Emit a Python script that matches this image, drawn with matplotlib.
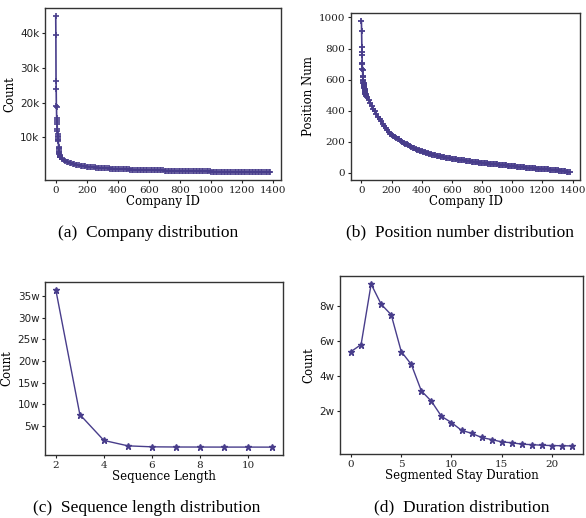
import numpy as np
import matplotlib
matplotlib.use('Agg')
from matplotlib import pyplot as plt

COLOR = '#483d8b'

# (a) company distribution: head ids one by one, tail every 10 ids
company_head_ids = list(range(30))
company_head_counts = [45000, 39500, 26300, 24000, 19000, 18700, 15500, 15000, 14500, 14000,
                       12500, 11800, 11000, 10500, 10000, 9500, 9300, 9000, 7300, 7000,
                       6800, 6200, 5800, 5500, 5200, 5000, 4800, 4600, 4500, 4400]
company_tail_ids = list(range(30, 1381, 10))
company_tail_counts = [4300, 3900, 3500, 3250, 3000, 2850, 2700, 2550, 2400, 2300,
                       2200, 2100, 2000, 1920, 1850, 1780, 1700, 1650, 1600, 1550,
                       1500, 1450, 1400, 1360, 1320, 1280, 1250, 1210, 1180, 1150,
                       1120, 1090, 1060, 1030, 1010, 985, 960, 940, 920, 900,
                       880, 860, 840, 820, 800, 785, 770, 755, 740, 725,
                       710, 695, 680, 665, 650, 635, 620, 610, 600, 590,
                       580, 565, 555, 540, 530, 520, 510, 500, 490, 480,
                       470, 460, 450, 440, 430, 420, 410, 400, 390, 380,
                       370, 360, 350, 340, 330, 320, 310, 300, 290, 280,
                       270, 260, 250, 242, 235, 228, 220, 212, 205, 198,
                       190, 182, 175, 168, 160, 155, 150, 145, 140, 135,
                       130, 125, 120, 115, 110, 105, 100, 96, 92, 88,
                       84, 80, 76, 72, 68, 64, 60, 56, 52, 48,
                       44, 40, 36, 32, 28, 20]

# (b) position number per company (same company ids)
position_head = [980, 915, 810, 775, 760, 710, 700, 665, 660, 620,
                 615, 600, 590, 580, 575, 570, 565, 560, 555, 550,
                 545, 540, 535, 530, 525, 520, 515, 510, 505, 500]
position_tail = [495, 485, 470, 450, 430, 412, 395, 378, 360, 345,
                 330, 315, 300, 288, 275, 262, 250, 242, 235, 230,
                 225, 220, 214, 207, 200, 194, 188, 182, 176, 171,
                 166, 161, 157, 152, 148, 144, 141, 137, 134, 131,
                 128, 125, 122, 119, 117, 114, 112, 110, 108, 106,
                 104, 102, 100, 98, 96, 94, 93, 91, 90, 88,
                 87, 85, 84, 82, 81, 79, 77, 76, 74, 73,
                 72, 70, 69, 67, 66, 65, 64, 63, 62, 61,
                 60, 59, 58, 57, 56, 55, 54, 53, 52, 51,
                 50, 49, 48, 47, 46, 45, 44, 43, 42, 41,
                 40, 38, 37, 36, 35, 34, 33, 32, 31, 30,
                 30, 29, 28, 27, 27, 26, 26, 25, 24, 23,
                 22, 21, 20, 19, 18, 17, 16, 15, 14, 13,
                 12, 10, 9, 7, 6, 2]

# (c) sequence length
seq_len = [2, 3, 4, 5, 6, 7, 8, 9, 10, 11]
seq_count = [365000, 76000, 16000, 3500, 1200, 800, 700, 600, 600, 500]

# (d) segmented stay duration
duration = list(range(23))
duration_count = [54000, 58000, 92500, 81000, 75000, 54000, 46700, 31600, 25700, 17100,
                  13500, 9100, 7400, 5000, 3800, 2500, 2000, 1200, 900, 600,
                  400, 300, 200]

W, H = 586, 518
fig = plt.figure(figsize=(W / 100, H / 100), dpi=100)

SERIF = 'DejaVu Serif'
SANS = 'DejaVu Sans'
CAP = 'Liberation Serif'


def make_ax(l, t, r, b):
    ax = fig.add_axes([l / W, 1 - b / H, (r - l) / W, (b - t) / H])
    for s in ax.spines.values():
        s.set_color('#333333')
        s.set_linewidth(1.0)
    ax.tick_params(length=2.5, width=0.8, labelsize=7.5, colors='#222222', pad=1.5)
    return ax


def style(ax, xlabel, ylabel, ysans=True):
    ax.set_xlabel(xlabel, family=SERIF, fontsize=8.5, labelpad=0)
    ax.set_ylabel(ylabel, family=SERIF, fontsize=8.5, labelpad=3)
    for t in ax.get_xticklabels():
        t.set_family(SERIF)
    for t in ax.get_yticklabels():
        t.set_family(SANS if ysans else SERIF)


ids = company_head_ids + company_tail_ids

# (a)
ax = make_ax(45, 8, 281, 180)
ax.plot(ids, company_head_counts + company_tail_counts,
        color=COLOR, marker='+', ms=4.5, lw=1.2, mew=1.2)
ax.set_xticks(range(0, 1401, 200))
ax.set_yticks([10000, 20000, 30000, 40000])
ax.set_yticklabels(['10k', '20k', '30k', '40k'])
style(ax, 'Company ID', 'Count')
fig.text(148 / W, 1 - 233 / H, '(a)  Company distribution', family=CAP, fontsize=12.5,
         ha='center', va='center')

# (b)
ax = make_ax(351, 13, 580, 180)
ax.plot(ids, position_head + position_tail,
        color=COLOR, marker='+', ms=5, lw=1.2, mew=1.3)
ax.set_xticks(range(0, 1401, 200))
ax.set_yticks(range(0, 1001, 200))
style(ax, 'Company ID', 'Position Num', ysans=False)
fig.text(460 / W, 1 - 232 / H, '(b)  Position number distribution', family=CAP, fontsize=12.5,
         ha='center', va='center')

# (c)
ax = make_ax(45, 282, 283, 455)
ax.plot(seq_len, seq_count, color=COLOR, marker='*', ms=5, lw=1)
ax.set_xticks([2, 4, 6, 8, 10])
ax.set_yticks([50000 * i for i in range(1, 8)])
ax.set_yticklabels(['%dw' % (5 * i) for i in range(1, 8)])
style(ax, 'Sequence Length', 'Count')
fig.text(147 / W, 1 - 508 / H, '(c)  Sequence length distribution', family=CAP, fontsize=12.5,
         ha='center', va='center')

# (d)
ax = make_ax(340, 276, 583, 454)
ax.plot(duration, duration_count, color=COLOR, marker='*', ms=5, lw=1)
ax.set_xticks([0, 5, 10, 15, 20])
ax.set_yticks([20000, 40000, 60000, 80000])
ax.set_yticklabels(['2w', '4w', '6w', '8w'])
style(ax, 'Segmented Stay Duration', 'Count')
fig.text(462 / W, 1 - 507 / H, '(d)  Duration distribution', family=CAP, fontsize=12.5,
         ha='center', va='center')

fig.savefig('out.png', dpi=100)
